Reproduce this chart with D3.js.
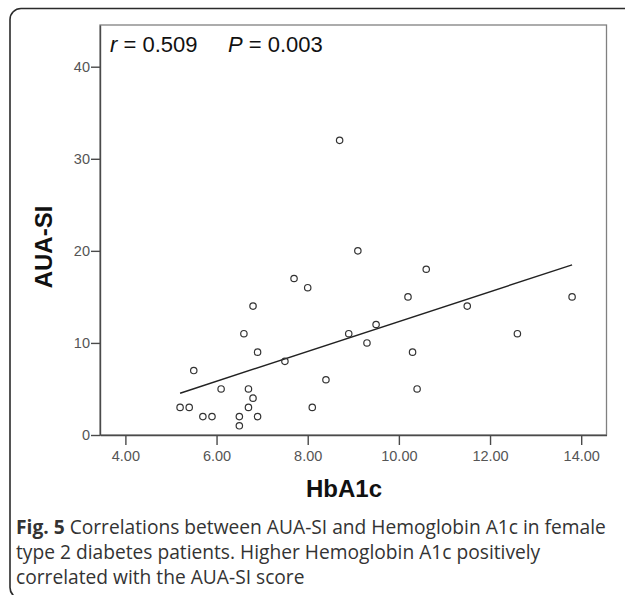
<!DOCTYPE html>
<html>
<head>
<meta charset="utf-8">
<script src="https://cdn.jsdelivr.net/npm/d3@7"></script>
<style>
  body { margin: 0; background: #fff; }
  svg { display: block; }
</style>
</head>
<body>
<div id="chart"></div>
<script>
// values (32 patients)
const hba1c = [5.2, 5.4, 5.5, 5.7, 5.9, 6.1, 6.5, 6.5, 6.6, 6.7, 6.7, 6.8, 6.8, 6.9, 6.9, 7.5,
  7.7, 8.0, 8.1, 8.4, 8.7, 8.9, 9.1, 9.3, 9.5, 10.2, 10.3, 10.4, 10.6, 11.5, 12.6, 13.8];
const auaSi = [3, 3, 7, 2, 2, 5, 2, 1, 11, 5, 3, 14, 4, 9, 2, 8,
  17, 16, 3, 6, 32, 11, 20, 10, 12, 15, 9, 5, 18, 14, 11, 15];
const xTicks = [4, 6, 8, 10, 12, 14];
const yTicks = [0, 10, 20, 30, 40];
const statText = ["r = 0.509", "P = 0.003"];
const captionLines = [
  ["Fig. 5", " Correlations between AUA-SI and Hemoglobin A1c in female"],
  ["", "type 2 diabetes patients. Higher Hemoglobin A1c positively"],
  ["", "correlated with the AUA-SI score"]
];

const w = 625;
const h = 595;
const plot = { left: 100, right: 606.5, top: 25, bottom: 435 };

const points = hba1c.map((x, i) => ({ x: x, y: auaSi[i] }));

const svg = d3
  .select("#chart")
  .append("svg")
  .attr("width", w)
  .attr("height", h);

// outer rounded frame (right and bottom run off the picture)
svg
  .append("rect")
  .attr("x", 10)
  .attr("y", 8.5)
  .attr("width", 650)
  .attr("height", 590)
  .attr("rx", 11)
  .attr("fill", "none")
  .attr("stroke", "#2b2b2b")
  .attr("stroke-width", 1.6);

const xScale = d3.scaleLinear().domain([3.443, 14.555]).range([plot.left, plot.right]);
const yScale = d3.scaleLinear().domain([0, 44.53]).range([plot.bottom, plot.top]);

// plot box
svg
  .append("rect")
  .attr("x", plot.left)
  .attr("y", plot.top)
  .attr("width", plot.right - plot.left)
  .attr("height", plot.bottom - plot.top)
  .attr("fill", "none")
  .attr("stroke", "#808080")
  .attr("stroke-width", 1.3);

const xAxis = d3
  .axisBottom(xScale)
  .tickValues(xTicks)
  .tickFormat(d3.format(".2f"))
  .tickSize(10)
  .tickPadding(6)
  .tickSizeOuter(0);
const gx = svg
  .append("g")
  .attr("transform", "translate(0, " + plot.bottom + ")")
  .call(xAxis);

const yAxis = d3
  .axisLeft(yScale)
  .tickValues(yTicks)
  .tickSize(9)
  .tickPadding(1)
  .tickSizeOuter(0);
const gy = svg
  .append("g")
  .attr("transform", "translate(" + plot.left + ", 0)")
  .call(yAxis);

[gx, gy].forEach((g) => {
  g.select(".domain").attr("stroke", "#4a4a4a").attr("stroke-width", 1.4);
  g.selectAll(".tick line").attr("stroke", "#4a4a4a").attr("stroke-width", 1.4);
  g.selectAll(".tick text")
    .attr("fill", "#555")
    .style("font-family", "Arial, 'Liberation Sans', sans-serif")
    .style("font-size", "14.5px");
});

// least squares fit through the points
const mx = d3.mean(hba1c);
const my = d3.mean(auaSi);
const sxy = d3.sum(points, (d) => (d.x - mx) * (d.y - my));
const sxx = d3.sum(points, (d) => (d.x - mx) * (d.x - mx));
const slope = sxy / sxx;
const intercept = my - slope * mx;
const fitX = d3.extent(hba1c);

svg
  .append("path")
  .datum(fitX)
  .attr("fill", "none")
  .attr("stroke", "#222")
  .attr("stroke-width", 1.4)
  .attr(
    "d",
    d3
      .line()
      .x((d) => xScale(d))
      .y((d) => yScale(intercept + slope * d))
  );

svg
  .selectAll("circle")
  .data(points)
  .enter()
  .append("circle")
  .attr("cx", (d) => xScale(d.x))
  .attr("cy", (d) => yScale(d.y))
  .attr("r", 3.2)
  .attr("fill", "none")
  .attr("stroke", "#333")
  .attr("stroke-width", 1.2);

// r and P
const stat = svg
  .append("text")
  .attr("y", 52)
  .style("font-family", "Arial, 'Liberation Sans', sans-serif")
  .style("font-size", "22px")
  .attr("fill", "#111");
stat.append("tspan").attr("x", 110).style("font-style", "italic").text(statText[0].slice(0, 1));
stat.append("tspan").text(statText[0].slice(1));
stat.append("tspan").attr("x", 228).style("font-style", "italic").text(statText[1].slice(0, 1));
stat.append("tspan").text(statText[1].slice(1));

// axis titles
svg
  .append("text")
  .attr("transform", "translate(52, 247) rotate(-90)")
  .attr("text-anchor", "middle")
  .style("font-family", "Arial, 'Liberation Sans', sans-serif")
  .style("font-size", "24px")
  .style("font-weight", "bold")
  .attr("fill", "#111")
  .text("AUA-SI");

svg
  .append("text")
  .attr("x", 344)
  .attr("y", 497)
  .attr("text-anchor", "middle")
  .style("font-family", "Arial, 'Liberation Sans', sans-serif")
  .style("font-size", "24px")
  .style("font-weight", "bold")
  .attr("fill", "#111")
  .text("HbA1c");

// caption
const cap = svg
  .selectAll("text.caption")
  .data(captionLines)
  .enter()
  .append("text")
  .attr("class", "caption")
  .attr("x", 16)
  .attr("y", (d, i) => 534 + i * 25)
  .style("font-family", "'Open Sans', sans-serif")
  .style("font-size", "19.2px")
  .attr("fill", "#333");
cap
  .append("tspan")
  .style("font-weight", "bold")
  .text((d) => d[0]);
cap.append("tspan").text((d) => d[1]);
</script>
</body>
</html>
